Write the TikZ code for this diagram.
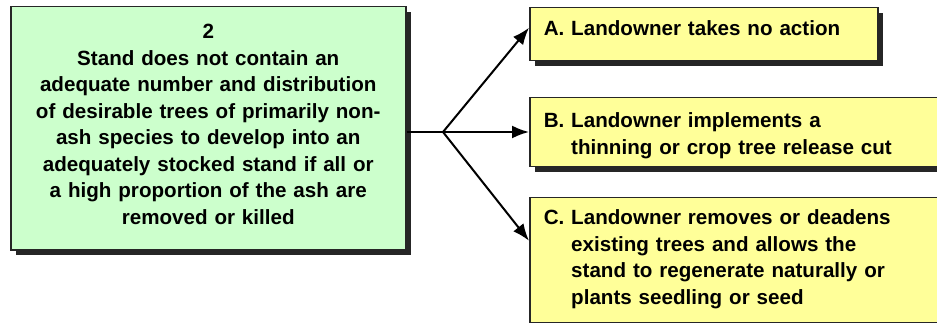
\documentclass[tikz,border=0pt]{standalone}
\usepackage{fontspec}
\setmainfont{Liberation Sans}
\usepackage{tikz}
\usetikzlibrary{positioning,shadows,arrows.meta}
\definecolor{stategreen}{HTML}{CCFFCC}
\definecolor{optyellow}{HTML}{FFFF99}
\tikzset{statenode/.style={draw=black!85,line width=1.5pt,fill=stategreen,text width=370pt,align=center,inner xsep=12.5pt,inner ysep=0pt,anchor=north west,drop shadow={shadow xshift=5pt,shadow yshift=-5pt,fill=black!85,opacity=1}} }
\tikzset{optnode/.style={draw=black!85,line width=1.5pt,fill=optyellow,align=left,inner xsep=14pt,inner ysep=0pt,anchor=north west,drop shadow={shadow xshift=5pt,shadow yshift=-5pt,fill=black!85,opacity=1}} }
\tikzset{optarrow/.style={-{Latex[length=17pt,width=13pt]},line width=2pt} }

\begin{document}
\begin{tikzpicture}[x=1pt,y=-1pt,font=\bfseries\fontsize{20.6}{26.5}\selectfont]
    \useasboundingbox (0,0) rectangle (937,323);
    \node[statenode,text height=32pt,text depth=211pt] (stand) at (10,6) {2\\Stand does not contain an\\adequate number and distribution\\of desirable trees of primarily non-\\ash species to develop into an\\adequately stocked stand if all or\\a high proportion of the ash are\\removed or killed};
    \node[optnode,text width=320pt,text height=28pt,text depth=25pt] (noaction) at (529,7) {A. Landowner takes no action};
    \node[optnode,text width=402pt,text height=30pt,text depth=39pt] (thinning) at (529,97) {B. Landowner implements a\\\hphantom{B. }thinning or crop tree release cut};
    \node[optnode,text width=402pt,text height=27pt,text depth=98pt] (regen) at (529,197) {C. Landowner removes or deadens\\\hphantom{C. }existing trees and allows the\\\hphantom{C. }stand to regenerate naturally or\\\hphantom{C. }plants seedling or seed};
    \coordinate (split) at (443,132);
    \draw[line width=2pt] (stand.east |- split) -- (split);
    \draw[optarrow] (split) -- ([yshift=6.5pt]noaction.west);
    \draw[optarrow] (split) -- (thinning.west |- split);
    \draw[optarrow] (split) -- ([yshift=19.5pt]regen.west);
\end{tikzpicture}
\end{document}
